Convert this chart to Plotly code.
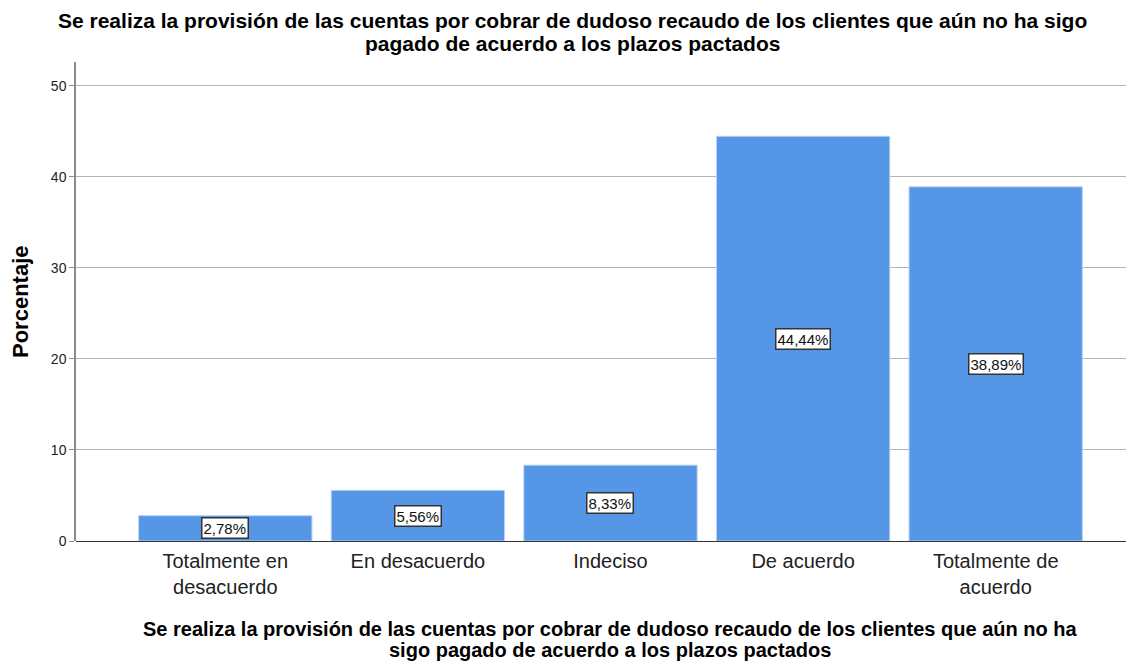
import plotly.graph_objects as go

categories = ["Totalmente en<br>desacuerdo", "En desacuerdo", "Indeciso", "De acuerdo", "Totalmente de<br>acuerdo"]
values = [2.78, 5.56, 8.33, 44.44, 38.89]
labels = ["2,78%", "5,56%", "8,33%", "44,44%", "38,89%"]
y_ticks = [0, 10, 20, 30, 40, 50]

title_lines = ["Se realiza la provisión de las cuentas por cobrar de dudoso recaudo de los clientes que aún no ha sigo",
               "pagado de acuerdo a los plazos pactados"]
xtitle_lines = ["Se realiza la provisión de las cuentas por cobrar de dudoso recaudo de los clientes que aún no ha",
                "sigo pagado de acuerdo a los plazos pactados"]
ytitle = "Porcentaje"

FONT = "Liberation Sans"
OFF = 8  # page body margin offset
W, H = 1134 - OFF, 662 - OFF
# target screen pixels
SL, ST, SB = 76, 62, 541
L = SL - OFF
T = ST - OFF
B = 662 - SB
R = 0
PW, PH = W - L - R, H - T - B


def px_x(p):
    return (p - SL) / PW


def px_y(p):
    return (SB - p) / PH


fig = go.Figure()
fig.add_trace(go.Bar(
    x=list(range(len(categories))),
    y=values,
    marker=dict(color="#5596e6", line=dict(color="#b9d3f4", width=1)),
    width=0.9,
    hoverinfo="skip",
))

for i, (v, lab) in enumerate(zip(values, labels)):
    fig.add_annotation(
        x=i, y=v / 2, text=lab, showarrow=False,
        font=dict(family=FONT, size=15, color="#111111"),
        bgcolor="white", bordercolor="#333333", borderwidth=1.5, borderpad=1,
    )

bold = dict(family=FONT, size=21, color="black", weight="bold")
for txt, yc in zip(title_lines, [20, 43]):
    fig.add_annotation(xref="paper", yref="paper", x=px_x(572), y=px_y(yc), text=txt,
                       showarrow=False, xanchor="center", yanchor="middle", font=bold)
xbold = dict(family=FONT, size=20, color="black", weight="bold")
for txt, yc in zip(xtitle_lines, [629, 650]):
    fig.add_annotation(xref="paper", yref="paper", x=px_x(610), y=px_y(yc), text=txt,
                       showarrow=False, xanchor="center", yanchor="middle", font=xbold)
fig.add_annotation(xref="paper", yref="paper", x=px_x(20), y=px_y(302), text=ytitle,
                   showarrow=False, textangle=-90, xanchor="center", yanchor="middle",
                   font=dict(family=FONT, size=22, color="black", weight="bold"))

fig.update_layout(
    width=W, height=H,
    margin=dict(l=L, r=R, t=T, b=B),
    paper_bgcolor="white", plot_bgcolor="white",
    showlegend=False,
    font=dict(family=FONT, color="black"),
)

fig.update_xaxes(
    range=[-0.775, 4.718], automargin=False,
    tickmode="array", tickvals=list(range(len(categories))), ticktext=categories,
    tickfont=dict(family=FONT, size=20, color="#222222"),
    ticklabelstandoff=6,
    showgrid=False, showline=False, ticks="", zeroline=False,
)

fig.update_yaxes(
    range=[0, 52.6], automargin=False,
    tickmode="array", tickvals=y_ticks,
    tickfont=dict(family=FONT, size=14, color="#222222"),
    showgrid=True, gridcolor="#b4b4b4", gridwidth=1,
    showline=True, linecolor="#8c8c8c", linewidth=1.5,
    ticks="outside", ticklen=5, tickcolor="#8c8c8c",
    zeroline=True, zerolinecolor="#333333", zerolinewidth=1.2,
)

fig.write_html("out.html")
